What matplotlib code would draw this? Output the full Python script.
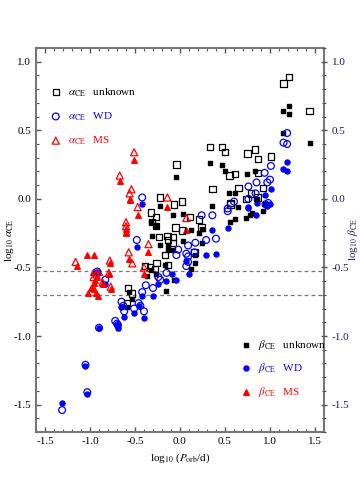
import matplotlib.pyplot as plt
import numpy as np

plt.rcParams['font.family'] = ['Liberation Serif', 'DejaVu Serif']
plt.rcParams['mathtext.fontset'] = 'stix'

# alpha_CE, unknown companion (open squares)
a_unk_x = [1.21, 1.15, 1.44, 0.33, 0.47, 0.50, 0.83, 0.75, 0.87, 1.01, 0.55, 0.61, 0.87,
           0.36, 0.65, 0.79, 0.92, 0.86, 0.73, 0.56, 0.02, -0.22, -0.07, -0.04,
           -0.32, -0.27, -0.31, -0.27, -0.23, -0.05, -0.14, -0.08, -0.13, -0.08, -0.17,
           -0.26, -0.33, -0.39, -0.28, -0.13, -0.58, -0.53, -0.59,
           0.11, 0.21, 0.24, 0.02, 0.16, 0.56]
a_unk_y = [0.89, 0.84, 0.64, 0.38, 0.38, 0.34, 0.36, 0.33, 0.29, 0.31, 0.17, 0.18, 0.19,
           0.07, 0.08, 0.04, 0.08, 0.01, 0.00, -0.04, -0.02, 0.01, -0.04, 0.25,
           -0.10, -0.13, -0.17, -0.20, -0.28, -0.21, -0.27, -0.28, -0.30, -0.32, -0.41,
           -0.47, -0.50, -0.49, -0.51, -0.48, -0.65, -0.69, -0.76,
           -0.13, -0.15, -0.21, -0.23, -0.39, -0.03]

# alpha_CE, WD companion (open circles)
a_wd_x = [1.19, 1.15, 1.19, 1.01, 0.94, 0.85, 0.97, 1.00, 0.76, 0.84, 0.76, 0.60, 0.53,
          -0.42, -0.02, -0.04, -0.15, -0.24, -0.22, -0.30, -0.38, -0.42, -0.92, -0.83,
          -0.65, -0.63, -0.62, -0.51, -0.46, -0.44, -0.40, -0.72, -0.70, -0.69,
          -1.05, -1.03, -1.31, -0.90, -0.48,
          0.24, 0.36, 0.53, 0.40, 0.29, 0.17, 0.09, 0.16, 0.07, 0.09, 0.09, 0.07, 0.95, 0.98]
a_wd_y = [0.48, 0.41, 0.40, 0.24, 0.19, 0.12, 0.12, 0.14, 0.09, 0.04, 0.00, -0.02, -0.07,
          0.01, -0.37, -0.41, -0.54, -0.57, -0.59, -0.65, -0.63, -0.68, -0.53, -0.59,
          -0.75, -0.78, -0.82, -0.80, -0.76, -0.78, -0.82, -0.89, -0.91, -0.92,
          -1.21, -1.41, -1.54, -0.94, -0.30,
          -0.12, -0.12, -0.09, -0.29, -0.30, -0.32, -0.34, -0.39, -0.40, -0.42, -0.46, -0.49, -0.04, -0.03]

# alpha_CE, MS companion (open triangles)
a_ms_x = [-0.51, -0.67, -0.54, -0.56, -0.14, -0.47, -0.60, -0.60, -0.57, -0.53, -0.35, -0.40, 0.07,
          -1.16, -0.78, -0.79, -0.93, -0.96, -0.77, -0.86]
a_ms_y = [0.34, 0.17, 0.07, 0.04, 0.01, -0.06, -0.17, -0.20, -0.39, -0.47, -0.33, -0.50, -0.14,
          -0.46, -0.45, -0.54, -0.55, -0.57, -0.64, -0.61]

# beta_CE, unknown companion (filled squares)
b_unk_x = [1.15, 1.21, 1.21, 1.44, 1.15, 0.33, 0.47, 0.50, 0.75, 0.83, 0.55, 0.61, 0.86, 0.95,
           0.36, 0.65, -0.22, -0.04, -0.08, -0.32, -0.27, -0.31, -0.22, -0.13, -0.13, -0.08,
           -0.17, -0.37, -0.32, -0.27, -0.07, -0.16, -0.57, -0.53, -0.59, -0.69,
           0.03, 0.24, 0.21, 0.12, 0.03, 0.24, 0.17, 0.12, 0.17, 0.78, 0.73, 0.92, 0.80, 0.56, 0.61]
b_unk_y = [0.64, 0.68, 0.62, 0.41, 0.48, 0.26, 0.25, 0.20, 0.18, 0.20, 0.04, 0.04, 0.00, -0.04,
           -0.05, -0.06, -0.05, 0.16, -0.12, -0.17, -0.20, -0.27, -0.34, -0.34, -0.37, -0.37,
           -0.48, -0.56, -0.52, -0.55, -0.59, -0.67, -0.68, -0.73, -0.79, -0.94,
           -0.11, -0.22, -0.25, -0.23, -0.31, -0.32, -0.47, -0.51, -0.41, -0.12, -0.14, -0.09, -0.10, -0.17, -0.15]

# beta_CE, WD companion (filled circles)
b_wd_x = [1.19, 1.15, 1.19, 1.01, 0.94, 0.86, 0.97, 1.00, 0.76, -0.42, -0.48,
          -0.90, -1.05, -1.03, -1.31, -0.83, -0.65, -0.62, -0.51, -0.40, -0.46, -0.70, -0.69,
          -0.30, -0.24, -0.15, -0.04, -0.09, -0.42, -0.92,
          0.76, 0.84, 0.53, 0.40, 0.29, 0.10, 0.07, 0.36]
b_wd_y = [0.27, 0.22, 0.20, 0.07, 0.03, -0.03, -0.05, -0.04, -0.06, -0.04, -0.35,
          -0.94, -1.22, -1.42, -1.49, -0.62, -0.79, -0.86, -0.83, -0.87, -0.78, -0.92, -0.94,
          -0.71, -0.62, -0.60, -0.59, -0.55, -0.71, -0.53,
          -0.07, -0.12, -0.21, -0.40, -0.41, -0.55, -0.45, -0.23]

# beta_CE, MS companion (filled triangles)
b_ms_x = [-0.51, -0.67, -0.56, -0.56, -0.14, -0.47, -0.60, -0.60, -0.60, -0.57, -0.35, -0.40, 0.07,
          -1.14, -1.03, -0.96, -0.97, -0.90, -0.94, -0.96, -0.92, -0.85, -0.86, -0.99, -1.02,
          -0.96, -0.93, -0.91, -0.78, -0.79, -0.77]
b_ms_y = [0.28, 0.13, 0.00, -0.01, -0.06, -0.12, -0.22, -0.24, -0.25, -0.44, -0.39, -0.55, -0.23,
          -0.49, -0.41, -0.41, -0.53, -0.53, -0.59, -0.61, -0.57, -0.61, -0.62, -0.65, -0.69,
          -0.66, -0.69, -0.71, -0.47, -0.55, -0.66]

# reference lines (log10 0.3 and log10 0.2)
hlines = [np.log10(0.3), np.log10(0.2)]

fig = plt.figure(figsize=(3.6, 4.8), dpi=100)
ax = fig.add_axes([0.1, 0.1, 0.8, 0.8])

for h in hlines:
    ax.axhline(h, color='#777777', ls='--', lw=0.9, dashes=(3, 2.5), zorder=1)

h1 = ax.scatter(a_unk_x, a_unk_y, marker='s', s=21, facecolors='none', edgecolors='k', linewidths=0.9, zorder=3)
h2 = ax.scatter(a_wd_x, a_wd_y, marker='o', s=24, facecolors='none', edgecolors='#0000ff', linewidths=0.9, zorder=3)
h3 = ax.scatter(a_ms_x, a_ms_y, marker='^', s=26, facecolors='none', edgecolors='#ff0000', linewidths=0.9, zorder=3)
h4 = ax.scatter(b_unk_x, b_unk_y, marker='s', s=11, color='k', zorder=2)
h5 = ax.scatter(b_wd_x, b_wd_y, marker='o', s=13, color='#0000ff', zorder=2)
h6 = ax.scatter(b_ms_x, b_ms_y, marker='^', s=16, color='#ff0000', zorder=2)

ax.set_xlim(-1.6, 1.6)
ax.set_ylim(-1.7, 1.1)
ax.set_xticks(np.arange(-1.5, 1.51, 0.5))
ax.set_xticks(np.arange(-1.6, 1.61, 0.1), minor=True)
ax.set_yticks(np.arange(-1.5, 1.01, 0.5))
ax.set_yticks(np.arange(-1.7, 1.11, 0.1), minor=True)
ax.xaxis.set_major_formatter(plt.FormatStrFormatter('%.1f'))
ax.yaxis.set_major_formatter(plt.FormatStrFormatter('%.1f'))
ax.tick_params(which='both', direction='in', top=True, right=False, labelsize=8, color='#555555')
ax.tick_params(which='major', length=3.5, width=1)
ax.tick_params(which='minor', length=2, width=0.8)
for sp in ax.spines.values():
    sp.set_color('#777777')
    sp.set_linewidth(1.5)

ax.set_xlabel(r'log$_{10}$ ($P_{\rm orb}$/d)', fontsize=8, labelpad=4)
ax.set_ylabel(r'log$_{10}$ $\alpha_{\rm CE}$', fontsize=8)
ax.yaxis.set_label_coords(-0.068, 0.5)

ax2 = ax.twinx()
ax2.set_ylim(ax.get_ylim())
ax2.set_yticks(np.arange(-1.5, 1.01, 0.5))
ax2.set_yticks(np.arange(-1.7, 1.11, 0.1), minor=True)
ax2.yaxis.set_major_formatter(plt.FormatStrFormatter('%.1f'))
ax2.tick_params(which='both', direction='inout', labelsize=8, labelcolor='#1a1a6e', color='#555555')
ax2.tick_params(which='major', length=4, width=1)
ax2.tick_params(which='minor', length=3, width=0.8)
for sp in ax2.spines.values():
    sp.set_visible(False)
ax2.set_ylabel(r'log$_{10}$ $\beta_{\rm CE}$', fontsize=8, color='#1a1a6e')
ax2.yaxis.set_label_coords(1.075, 0.5)

leg1 = ax.legend([h1, h2, h3],
                 [r'$\alpha_{\rm CE}$   unknown', r'$\alpha_{\rm CE}$   WD', r'$\alpha_{\rm CE}$   MS'],
                 loc='upper left', bbox_to_anchor=(0.03, 0.915), frameon=False, fontsize=8,
                 handlelength=1.0, handletextpad=0.6, labelspacing=1.05, borderpad=0)
for t, c in zip(leg1.get_texts(), ['k', '#0000ff', '#ff0000']):
    t.set_color(c)
ax.add_artist(leg1)

leg2 = ax.legend([h4, h5, h6],
                 [r'$\beta_{\rm CE}$   unknown', r'$\beta_{\rm CE}$   WD', r'$\beta_{\rm CE}$   MS'],
                 loc='lower left', bbox_to_anchor=(0.69, 0.072), frameon=False, fontsize=8,
                 handlelength=1.0, handletextpad=0.6, labelspacing=0.85, borderpad=0)
for t, c in zip(leg2.get_texts(), ['k', '#0000ff', '#ff0000']):
    t.set_color(c)

fig.savefig('out.png', dpi=100)
